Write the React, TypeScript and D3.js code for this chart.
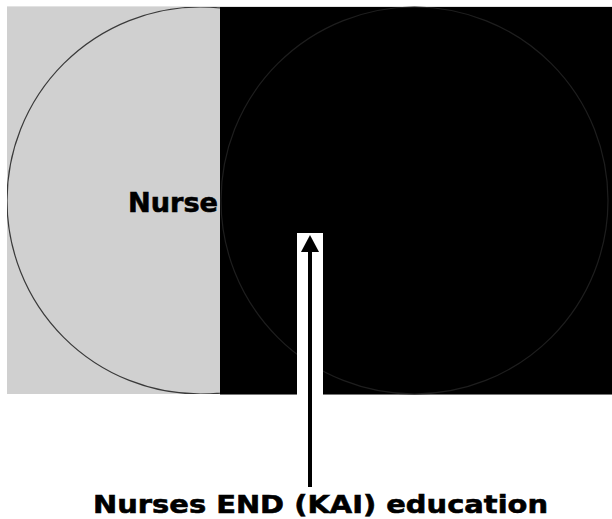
import React from "react";
import * as d3 from "d3";

const sets = ["Nurses", "Other"];
const setFills = ["#d0d0d0", "#000000"];
const circleStrokes = ["#3a3a3a", "#1e1e1e"];
const labelText = "Nurse";
const titleText = "Nurses END (KAI) education";

const W = 612;
const H = 519;

export default function App() {
  const top = 7;
  const bottom = 394;
  const split = 220;
  const yScale = d3.scaleLinear().domain([0, 1]).range([top, bottom]);
  const cy = yScale(0.5);
  const r = (bottom - top) / 2;
  const panels = [
    { x0: 7, x1: split },
    { x0: split, x1: 612 },
  ];
  const centers = [7 + r, split + 1 + r];
  const arrowX = 310;
  return (
    <div style={{ position: "absolute", left: 0, top: 0, margin: 0 }}>
      <svg width={W} height={H} style={{ display: "block", background: "#fff" }}>
        <line x1={7} x2={612} y1={6.5} y2={6.5} stroke="#e2e2e2" strokeWidth={1} />
        {sets.map((s, i) => (
          <rect
            key={s}
            x={panels[i].x0}
            y={top}
            width={panels[i].x1 - panels[i].x0}
            height={bottom - top}
            fill={setFills[i]}
          />
        ))}
        <line x1={split} x2={612} y1={bottom + 0.5} y2={bottom + 0.5} stroke="#777" strokeWidth={1} />
        <clipPath id="leftclip">
          <rect x={7} y={top} width={split - 7} height={bottom - top} />
        </clipPath>
        <circle cx={centers[0]} cy={cy} r={r} fill="none" stroke={circleStrokes[0]} strokeWidth={1.2} clipPath="url(#leftclip)" />
        <circle cx={centers[1]} cy={cy} r={r} fill="none" stroke={circleStrokes[1]} strokeWidth={1.2} />
        <text
          x={128}
          y={212}
          fontFamily="DejaVu Sans, Verdana, sans-serif"
          fontWeight="bold"
          fontSize={26.5}
          fill="#000"
          stroke="#000"
          strokeWidth={0.6}
          textLength={90}
          lengthAdjust="spacingAndGlyphs"
        >
          {labelText}
        </text>
        <rect x={297} y={233} width={26} height={bottom - 233 + 1} fill="#fff" />
        <line x1={arrowX} x2={arrowX} y1={250} y2={487} stroke="#000" strokeWidth={4} />
        <path d={`M${arrowX},235 L${arrowX + 9},252 L${arrowX - 9},252 Z`} fill="#000" />
        <text
          x={93}
          y={513}
          fontFamily="DejaVu Sans, Verdana, sans-serif"
          fontWeight="bold"
          fontSize={25.5}
          fill="#000"
          stroke="#000"
          strokeWidth={0.6}
          textLength={455}
          lengthAdjust="spacingAndGlyphs"
        >
          {titleText}
        </text>
      </svg>
    </div>
  );
}
